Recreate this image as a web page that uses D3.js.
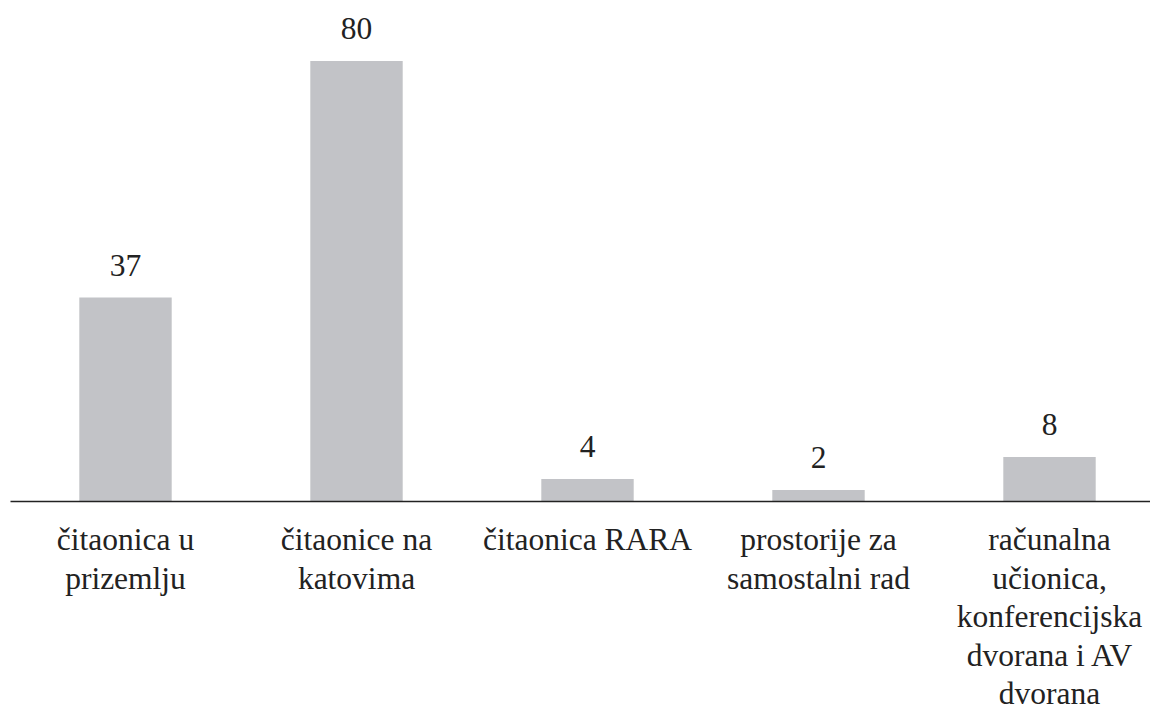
<!DOCTYPE html>
<html><head><meta charset="utf-8">
<script src="https://cdn.jsdelivr.net/npm/d3@7"></script>
</head><body style="margin:0">
<svg id="c" width="1150" height="707"></svg>
<script>
const categories = ["čitaonica u prizemlju", "čitaonice na katovima", "čitaonica RARA", "prostorije za samostalni rad", "računalna učionica, konferencijska dvorana i AV dvorana"];
const values = [37, 80, 4, 2, 8];
const labelLines = [
  ["čitaonica u", "prizemlju"],
  ["čitaonice na", "katovima"],
  ["čitaonica RARA"],
  ["prostorije za", "samostalni rad"],
  ["računalna", "učionica,", "konferencijska", "dvorana i AV", "dvorana"]
];

const svg = d3.select("#c");
const baseY = 501;
const x = d3.scaleBand().domain(categories).range([10, 1165]).paddingInner(0.6).paddingOuter(0.3);
const y = d3.scaleLinear().domain([0, 80]).range([baseY, 61]);
const FONT = "Liberation Serif";
const FS = 31.5;

svg.selectAll("rect.bar").data(categories).join("rect")
  .attr("class","bar")
  .attr("x", d => x(d)).attr("width", x.bandwidth())
  .attr("y", (d,i) => y(values[i])).attr("height", (d,i) => baseY - y(values[i]))
  .attr("fill", "#c2c3c7");

svg.selectAll("text.val").data(categories).join("text")
  .attr("class","val")
  .attr("x", d => x(d) + x.bandwidth()/2)
  .attr("y", (d,i) => y(values[i]) - 22)
  .attr("text-anchor","middle")
  .attr("font-family", FONT).attr("font-size", FS)
  .attr("fill","#222")
  .text((d,i) => values[i]);

const axis = svg.append("g").attr("transform", `translate(0,${baseY})`)
  .call(d3.axisBottom(x).tickSize(0).tickPadding(0).tickFormat(""));
axis.select(".domain").attr("stroke","#222").attr("stroke-width",1.5);

categories.forEach((cat, k) => {
  const t = svg.append("text")
    .attr("text-anchor","middle")
    .attr("font-family", FONT).attr("font-size", FS)
    .attr("fill","#222");
  const cx = x(cat) + x.bandwidth()/2;
  labelLines[k].forEach((ln, i) => {
    t.append("tspan").attr("x", cx).attr("y", 550 + i*38.5).text(ln);
  });
});
</script>
</body></html>
